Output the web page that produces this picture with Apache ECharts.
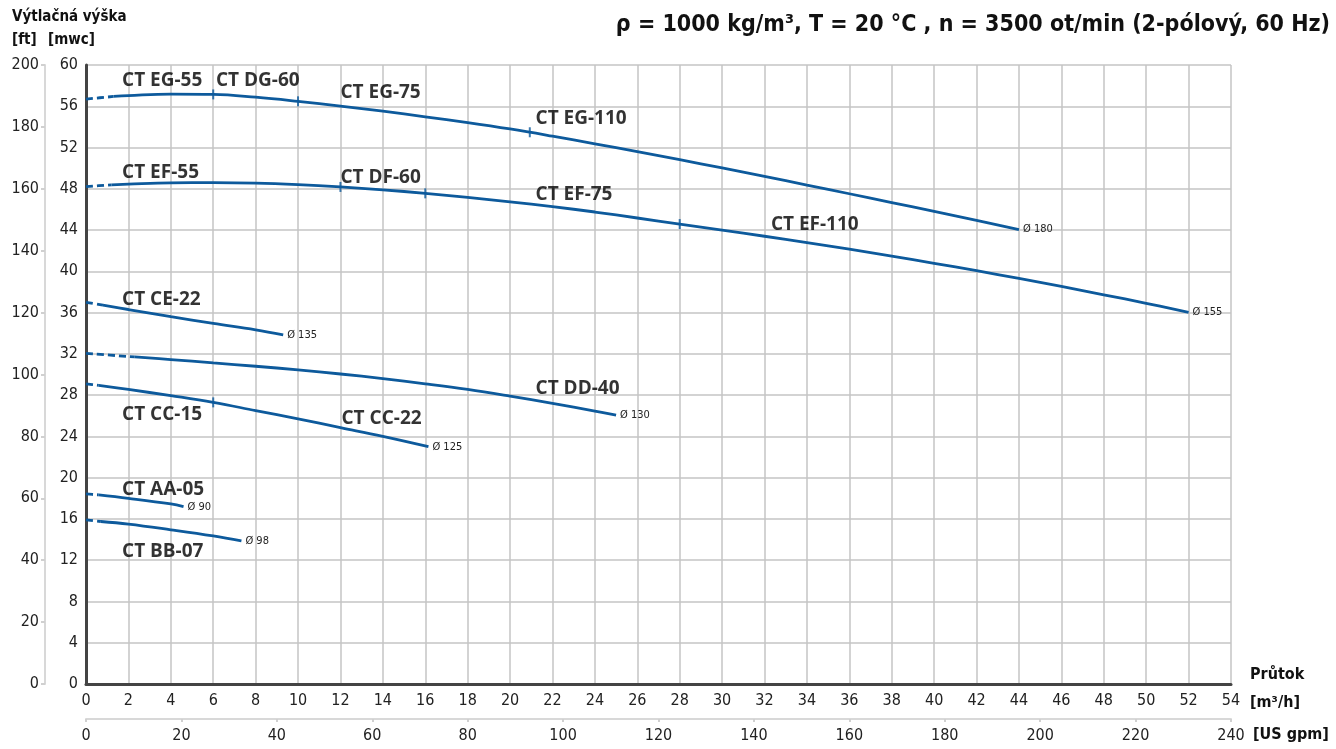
<!DOCTYPE html>
<html>
<head>
<meta charset="utf-8">
<script src="https://cdn.jsdelivr.net/npm/echarts@6/dist/echarts.min.js"></script>
<style>
html,body{margin:0;padding:0;background:#fff;}
#chart{width:1336px;height:749px;}
</style>
</head>
<body>
<div id="chart"></div>
<script>
// ---- data (flow m3/h, head mwc) ----
const curveEG = [[0,56.7],[1.3,56.95],[2,57.03],[4,57.18],[6,57.15],[8,56.88],[10,56.48],[12,56.02],[14,55.52],[16,54.98],[18,54.42],[20,53.8],[22,53.1],[24,52.36],[26,51.6],[28,50.82],[30,50.02],[32,49.2],[34,48.36],[36,47.52],[38,46.67],[40,45.81],[42,44.94],[44,44.05]];
const curveEF = [[0,48.22],[1.2,48.38],[2,48.45],[4,48.58],[6,48.6],[8,48.55],[10,48.4],[12,48.18],[14,47.9],[16,47.56],[18,47.17],[20,46.74],[22,46.27],[24,45.75],[26,45.17],[28,44.58],[30,43.99],[32,43.4],[34,42.79],[36,42.15],[38,41.48],[40,40.78],[42,40.06],[44,39.31],[46,38.53],[48,37.73],[50,36.9],[52,36.02]];
const curveCE = [[0,37.0],[0.8,36.72],[2,36.3],[4,35.6],[6,34.95],[8,34.33],[9.3,33.85]];
const curveDD = [[0,32.05],[2.3,31.7],[4,31.45],[6,31.12],[8,30.8],[10,30.45],[12,30.05],[14,29.6],[16,29.1],[18,28.55],[20,27.9],[22,27.2],[24,26.45],[25,26.06]];
const curveCC = [[0,29.1],[0.6,28.95],[2,28.55],[4,27.95],[6,27.3],[8,26.5],[10,25.7],[12,24.85],[14,24.0],[16.15,23.0]];
const curveAA = [[0,18.42],[0.6,18.33],[2,18.0],[4,17.45],[4.6,17.19]];
const curveBB = [[0,15.9],[0.7,15.75],[2,15.5],[4,14.95],[6,14.35],[7.33,13.87]];
// number of leading points drawn dashed
const dashCount = {EG:2, EF:2, CE:2, DD:2, CC:2, AA:2, BB:2};
const impellerLabels = {EG:'Ø 180', EF:'Ø 155', CE:'Ø 135', DD:'Ø 130', CC:'Ø 125', AA:'Ø 90', BB:'Ø 98'};
// motor change ticks on curves
const tickPoints = [[6,57.15],[10,56.48],[20.93,53.48],[12,48.18],[16,47.56],[28,44.58],[6,27.3]];
// model labels: [flow, head, text]
const modelLabels = [
  [1.7,58.5,'CT EG-55'],[6.13,58.5,'CT DG-60'],[12.0,57.3,'CT EG-75'],[21.2,54.8,'CT EG-110'],
  [1.7,49.6,'CT EF-55'],[12.0,49.1,'CT DF-60'],[21.2,47.4,'CT EF-75'],[32.3,44.5,'CT EF-110'],
  [1.7,37.3,'CT CE-22'],[21.2,28.65,'CT DD-40'],[1.7,26.15,'CT CC-15'],[12.05,25.75,'CT CC-22'],
  [1.7,18.8,'CT AA-05'],[1.7,12.85,'CT BB-07']
];
const flowTicks = {min:0, max:54, step:2};
const gpmTicks = {min:0, max:240, step:20};
const mwcTicks = {min:0, max:60, step:4};
const ftTicks = {min:0, max:200, step:20};

const BLUE = '#0d5a9c';
const COND = "'DejaVu Sans Condensed','Liberation Sans Narrow',sans-serif";
const BOLD = "'Open Sans','Noto Sans',sans-serif";

const curves = {EG:curveEG, EF:curveEF, CE:curveCE, DD:curveDD, CC:curveCC, AA:curveAA, BB:curveBB};
const series = [];
Object.keys(curves).forEach(k => {
  const pts = curves[k];
  const n = dashCount[k];
  series.push({type:'line', data:pts.slice(0,n), smooth:0.4, showSymbol:false, silent:true,
    lineStyle:{color:BLUE, width:2.8, type:[7,4]}});
  series.push({type:'line', data:pts.slice(n-1), smooth:0.4, showSymbol:false, silent:true,
    lineStyle:{color:BLUE, width:2.8},
    endLabel:{show:true, formatter:impellerLabels[k], fontSize:11, fontFamily:COND, color:'#222', distance:4}});
});
series.push({type:'scatter', data:tickPoints, symbol:'rect', symbolSize:[2,10], itemStyle:{color:BLUE}, silent:true, z:3});
series.push({type:'scatter', data:modelLabels, symbolSize:0, silent:true,
  label:{show:true, position:'right', distance:0, formatter:p=>p.data[2], fontSize:19, fontWeight:'bold', fontFamily:BOLD, color:'#000'}});

const chart = echarts.init(document.getElementById('chart'), null, {renderer:'canvas'});
chart.setOption({
  animation:false,
  backgroundColor:'#fff',
  grid:{left:86, right:105, top:65, bottom:65},
  xAxis:[
    {type:'value', min:flowTicks.min, max:flowTicks.max, interval:flowTicks.step, position:'bottom',
      axisLine:{onZero:false, lineStyle:{color:'#444', width:3}}, axisTick:{show:false},
      splitLine:{show:true, lineStyle:{color:'#c4c4c4', width:1.5}},
      axisLabel:{fontSize:16, fontFamily:COND, color:'#222', margin:9}},
    {type:'value', min:gpmTicks.min, max:gpmTicks.max, interval:gpmTicks.step, position:'bottom', offset:35,
      axisLine:{show:true, onZero:false, lineStyle:{color:'#d8d8d8', width:2}},
      axisTick:{show:true, length:3, lineStyle:{color:'#d0d0d0', width:2}},
      splitLine:{show:false},
      axisLabel:{fontSize:16, fontFamily:COND, color:'#222', margin:9}}
  ],
  yAxis:[
    {type:'value', min:mwcTicks.min, max:mwcTicks.max, interval:mwcTicks.step, position:'left',
      axisLine:{show:true, onZero:false, lineStyle:{color:'#444', width:3}}, axisTick:{show:false},
      splitLine:{show:true, lineStyle:{color:'#c4c4c4', width:1.5}},
      axisLabel:{fontSize:16, fontFamily:COND, color:'#222', margin:8}},
    {type:'value', min:ftTicks.min, max:ftTicks.max, interval:ftTicks.step, position:'left', offset:41,
      axisLine:{show:true, onZero:false, lineStyle:{color:'#d8d8d8', width:2}},
      axisTick:{show:true, length:4, lineStyle:{color:'#d0d0d0', width:2}},
      splitLine:{show:false},
      axisLabel:{fontSize:16, fontFamily:COND, color:'#222', margin:6}}
  ],
  series:series,
  graphic:[
    {type:'text', left:12, top:10, style:{text:'Výtlačná výška', font:"bold 15px "+COND, fill:'#111'}},
    {type:'text', left:12, top:33, style:{text:'[ft]', font:"bold 15px "+COND, fill:'#111'}},
    {type:'text', left:48, top:33, style:{text:'[mwc]', font:"bold 15px "+COND, fill:'#111'}},
    {type:'text', right:6, top:14, style:{text:'ρ = 1000 kg/m³, T = 20 °C , n = 3500 ot/min (2-pólový, 60 Hz)', font:"bold 23px "+COND, fill:'#111'}},
    {type:'text', left:1250, top:667, style:{text:'Průtok', font:"bold 16px "+COND, fill:'#111'}},
    {type:'text', left:1250, top:695, style:{text:'[m³/h]', font:"bold 16px "+COND, fill:'#111'}},
    {type:'text', left:1253, top:727, style:{text:'[US gpm]', font:"bold 16px "+COND, fill:'#111'}}
  ]
});
</script>
</body>
</html>
